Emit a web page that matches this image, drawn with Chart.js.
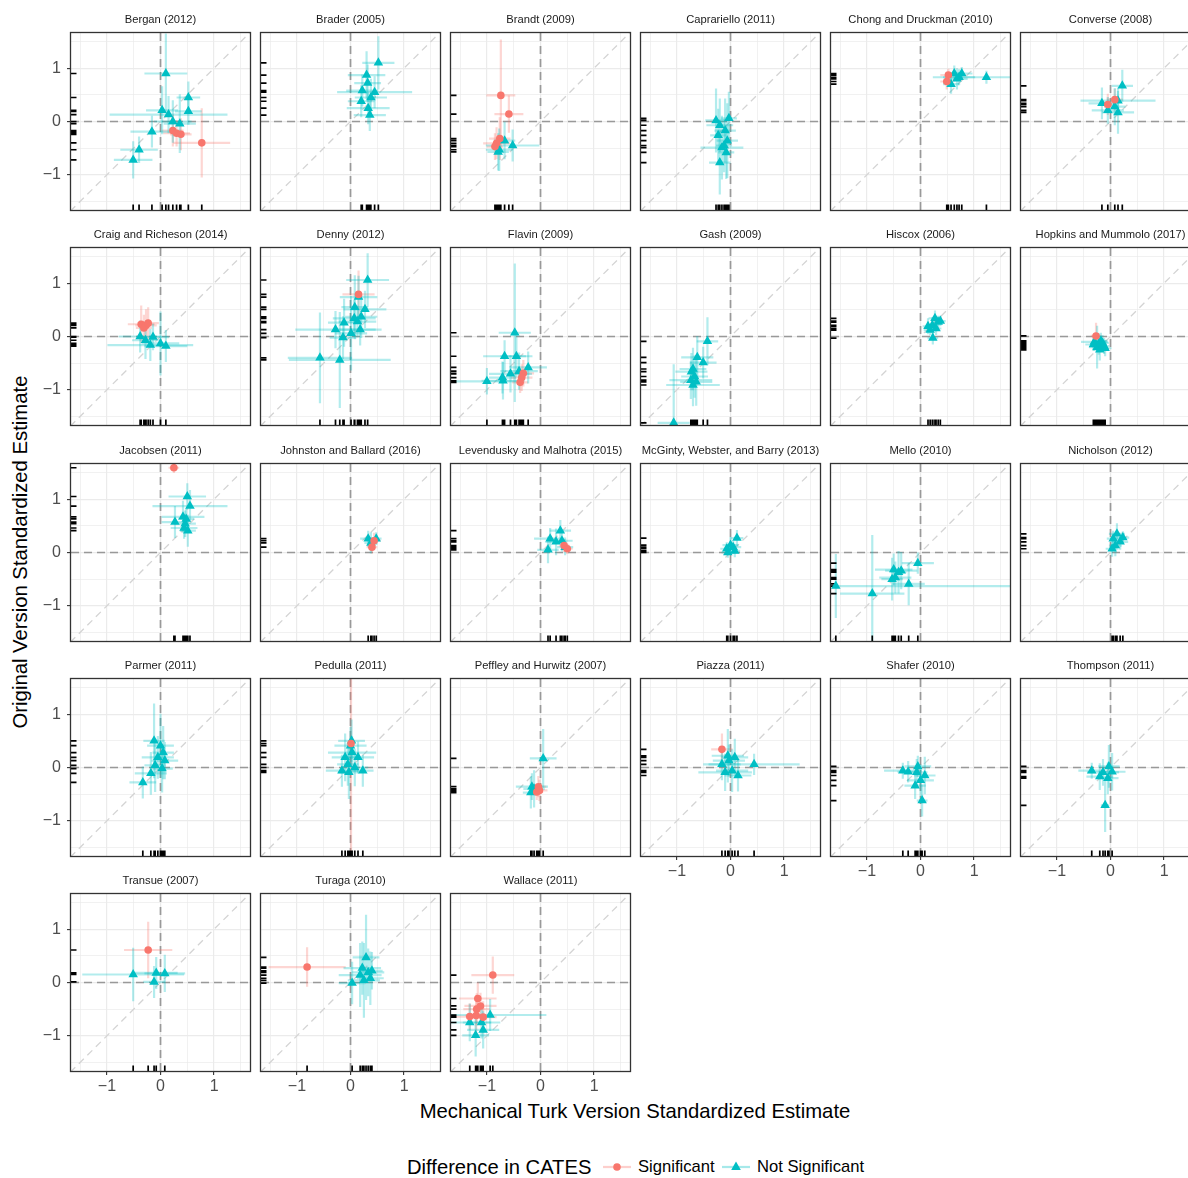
<!DOCTYPE html>
<html>
<head>
<meta charset="utf-8">
<script src="https://cdn.jsdelivr.net/npm/chart.js@4.4.1/dist/chart.umd.min.js"></script>
<style>
  body { margin: 0; background: #fff; width: 1188px; height: 1178px; overflow: hidden; position: relative;
         font-family: "Liberation Sans", Arial, Helvetica, sans-serif; }
  canvas { position: absolute; }
  .lbl { position: absolute; white-space: nowrap; color: #000; }
</style>
</head>
<body>
<div class="lbl" id="ytitle" style="left:20px;top:552px;font-size:20.3px;transform:translate(-50%,-50%) rotate(-90deg);">Original Version Standardized Estimate</div>
<div class="lbl" id="xtitle" style="left:635px;top:1111px;font-size:20.3px;transform:translate(-50%,-50%);">Mechanical Turk Version Standardized Estimate</div>
<div class="lbl" style="left:407px;top:1167px;font-size:20.2px;transform:translateY(-50%);">Difference in CATES</div>
<svg style="position:absolute;left:603px;top:1160px" width="28" height="14">
  <line x1="0" y1="7" x2="28" y2="7" stroke="rgba(248,118,109,0.35)" stroke-width="2.2"/>
  <circle cx="14" cy="7" r="3.8" fill="#F8766D"/>
</svg>
<div class="lbl" id="leg1" style="left:638px;top:1167px;font-size:16.6px;transform:translateY(-50%);"></div>
<svg style="position:absolute;left:722px;top:1160px" width="28" height="14">
  <line x1="0" y1="7" x2="28" y2="7" stroke="rgba(0,191,196,0.35)" stroke-width="2.2"/>
  <polygon points="14,1.6 18.8,9.9 9.2,9.9" fill="#00BFC4"/>
</svg>
<div class="lbl" id="leg2" style="left:757px;top:1167px;font-size:16.6px;transform:translateY(-50%);"></div>

<script>
// each row: [MTurk estimate, original estimate, MTurk half-CI, original half-CI, significant (1/0)]
const bergan2012 = [
  [0.10, 0.90, 0.40, 0.75, 0], [0.52, 0.45, 0.22, 0.30, 0], [0.52, 0.19, 0.25, 0.25, 0],
  [0.03, 0.21, 0.30, 0.45, 0], [0.15, 0.13, 1.10, 0.35, 0], [0.23, 0.00, 0.35, 0.40, 0],
  [0.36, -0.04, 0.30, 0.55, 0], [-0.16, -0.19, 0.40, 0.30, 0], [-0.40, -0.53, 0.35, 0.25, 0],
  [-0.51, -0.72, 0.36, 0.35, 0], [0.23, -0.17, 0.20, 0.30, 1], [0.30, -0.22, 0.25, 0.25, 1],
  [0.38, -0.24, 0.20, 0.30, 1], [0.77, -0.40, 0.53, 0.65, 1]
];
const brader2005 = [
  [0.52, 1.10, 0.30, 0.50, 0], [0.30, 0.87, 0.35, 0.45, 0], [0.32, 0.72, 0.25, 0.35, 0],
  [0.22, 0.58, 0.30, 0.30, 0], [0.45, 0.55, 0.70, 0.30, 0], [0.38, 0.45, 0.30, 0.35, 0],
  [0.20, 0.38, 0.25, 0.30, 0], [0.33, 0.25, 0.40, 0.30, 0], [0.36, 0.12, 0.30, 0.30, 0]
];
const brandt2009 = [
  [-0.74, 0.49, 0.27, 1.05, 1], [-0.59, 0.14, 0.27, 0.35, 1], [-0.76, -0.32, 0.20, 0.40, 1],
  [-0.82, -0.41, 0.25, 0.30, 1], [-0.85, -0.47, 0.15, 0.25, 1], [-0.67, -0.36, 0.20, 0.35, 0],
  [-0.52, -0.45, 0.50, 0.30, 0], [-0.79, -0.57, 0.20, 0.35, 0], [-0.77, -0.53, 0.25, 0.40, 0]
];
const caprariello2011 = [
  [-0.27, 0.02, 0.20, 0.60, 0], [-0.03, 0.06, 0.15, 0.50, 0], [-0.20, -0.07, 0.25, 0.50, 0],
  [-0.10, -0.17, 0.20, 0.60, 0], [-0.23, -0.26, 0.15, 0.50, 0], [-0.06, -0.36, 0.20, 0.70, 0],
  [-0.12, -0.45, 0.15, 0.50, 0], [-0.16, -0.49, 0.40, 0.60, 0], [-0.08, -0.58, 0.15, 0.50, 0],
  [-0.20, -0.77, 0.20, 0.60, 0]
];
const chongDruckman2010 = [
  [0.63, 0.90, 0.15, 0.15, 0], [0.77, 0.90, 0.20, 0.12, 0], [0.72, 0.83, 0.30, 0.15, 0],
  [0.68, 0.80, 0.20, 0.20, 0], [1.23, 0.83, 1.00, 0.12, 0], [0.57, 0.70, 0.15, 0.18, 0],
  [0.52, 0.87, 0.15, 0.12, 1], [0.49, 0.75, 0.12, 0.15, 1]
];
const converse2008 = [
  [0.22, 0.67, 0.20, 0.30, 0], [0.14, 0.39, 0.70, 0.25, 0], [-0.16, 0.34, 0.25, 0.30, 0],
  [0.08, 0.28, 0.20, 0.35, 0], [-0.05, 0.21, 0.30, 0.25, 0], [0.14, 0.17, 0.30, 0.40, 0],
  [-0.05, 0.32, 0.15, 0.20, 1], [0.08, 0.41, 0.15, 0.20, 1]
];
const craigRicheson2014 = [
  [-0.36, 0.23, 0.25, 0.35, 1], [-0.27, 0.21, 0.20, 0.30, 1], [-0.31, 0.16, 0.15, 0.25, 1],
  [-0.23, 0.25, 0.20, 0.30, 1], [-0.38, 0.00, 0.40, 0.30, 0], [-0.14, -0.01, 0.30, 0.25, 0],
  [0.00, -0.13, 0.35, 0.60, 0], [-0.19, -0.16, 0.80, 0.30, 0], [0.10, -0.18, 0.40, 0.30, 0],
  [-0.28, -0.07, 0.25, 0.35, 0]
];
const denny2012 = [
  [0.32, 1.06, 0.40, 0.50, 0], [0.15, 0.79, 0.30, 0.45, 1], [0.15, 0.74, 0.35, 0.40, 0],
  [0.08, 0.55, 0.25, 0.60, 0], [0.27, 0.51, 0.40, 0.35, 0], [0.07, 0.34, 0.40, 0.35, 0],
  [0.20, 0.37, 0.30, 0.40, 0], [0.13, 0.28, 0.35, 0.30, 0], [-0.12, 0.26, 0.30, 0.45, 0],
  [-0.28, 0.13, 0.75, 0.35, 0], [0.18, 0.13, 0.40, 0.30, 0], [0.01, 0.06, 0.30, 0.70, 0],
  [-0.14, -0.02, 0.25, 0.40, 0], [-0.57, -0.40, 0.60, 0.85, 0], [-0.20, -0.44, 0.95, 0.90, 0]
];
const flavin2009 = [
  [-0.48, 0.07, 0.30, 1.30, 0], [-0.67, -0.37, 0.40, 0.30, 0], [-0.45, -0.37, 0.30, 0.40, 0],
  [-0.23, -0.58, 0.35, 0.30, 0], [-0.40, -0.65, 0.35, 0.35, 0], [-0.56, -0.70, 0.40, 0.35, 0],
  [-0.71, -0.77, 0.25, 0.30, 0], [-0.70, -0.83, 0.40, 0.35, 0], [-1.00, -0.84, 0.65, 0.25, 0],
  [-0.32, -0.69, 0.20, 0.25, 1], [-0.35, -0.77, 0.20, 0.25, 1], [-0.38, -0.86, 0.15, 0.20, 1]
];
const gash2009 = [
  [-0.43, -0.09, 0.20, 0.45, 0], [-0.62, -0.39, 0.30, 0.40, 0], [-0.51, -0.49, 0.25, 0.30, 0],
  [-0.70, -0.61, 0.25, 0.40, 0], [-0.73, -0.66, 0.30, 0.35, 0], [-0.67, -0.75, 0.25, 0.40, 0],
  [-0.74, -0.82, 0.40, 0.35, 0], [-0.64, -0.85, 0.30, 0.45, 0], [-0.70, -0.91, 0.50, 0.40, 0],
  [-1.06, -1.62, 0.30, 1.10, 0]
];
const hiscox2006 = [
  [0.27, 0.34, 0.12, 0.15, 0], [0.33, 0.27, 0.10, 0.12, 0], [0.22, 0.21, 0.12, 0.15, 0],
  [0.29, 0.15, 0.10, 0.12, 0], [0.18, 0.12, 0.12, 0.10, 0], [0.37, 0.29, 0.10, 0.10, 0],
  [0.23, -0.03, 0.10, 0.12, 0], [0.14, 0.19, 0.10, 0.15, 0]
];
const hopkinsMummolo2017 = [
  [-0.27, 0.01, 0.10, 0.25, 1], [-0.30, -0.10, 0.25, 0.15, 0], [-0.22, -0.14, 0.15, 0.20, 0],
  [-0.15, -0.12, 0.12, 0.15, 0], [-0.25, -0.20, 0.15, 0.40, 0], [-0.12, -0.18, 0.10, 0.15, 0],
  [-0.20, -0.25, 0.12, 0.20, 0], [-0.32, -0.15, 0.15, 0.12, 0], [-0.10, -0.22, 0.12, 0.15, 0],
  [-0.18, -0.08, 0.12, 0.15, 0]
];
const jacobsen2011 = [
  [0.25, 1.59, 0.10, 0.10, 1], [0.50, 1.05, 0.35, 0.25, 0], [0.55, 0.87, 0.70, 0.30, 0],
  [0.27, 0.57, 0.25, 0.30, 0], [0.42, 0.67, 0.40, 0.30, 0], [0.46, 0.54, 0.20, 0.25, 0],
  [0.51, 0.41, 0.15, 0.30, 0], [0.44, 0.46, 0.25, 0.20, 0], [0.48, 0.63, 0.15, 0.20, 0]
];
const johnstonBallard2016 = [
  [0.44, 0.22, 0.12, 0.15, 1], [0.40, 0.10, 0.10, 0.12, 1], [0.33, 0.26, 0.15, 0.15, 0],
  [0.38, 0.18, 0.12, 0.20, 0], [0.48, 0.26, 0.10, 0.12, 0]
];
const levenduskyMalhotra2015 = [
  [0.37, 0.41, 0.20, 0.20, 0], [0.18, 0.26, 0.30, 0.20, 0], [0.29, 0.20, 0.20, 0.25, 0],
  [0.14, 0.05, 0.20, 0.25, 0], [0.40, 0.22, 0.20, 0.20, 0], [0.46, 0.10, 0.15, 0.15, 0],
  [0.50, 0.07, 0.10, 0.10, 1], [0.44, 0.13, 0.10, 0.12, 1]
];
const mcgintyWebsterBarry2013 = [
  [0.12, 0.27, 0.12, 0.15, 0], [0.00, 0.14, 0.15, 0.15, 0], [-0.07, 0.07, 0.12, 0.12, 0],
  [0.05, 0.10, 0.15, 0.12, 0], [0.08, 0.03, 0.10, 0.12, 0], [-0.05, 0.00, 0.12, 0.10, 0]
];
const mello2010 = [
  [-0.05, -0.20, 0.30, 0.20, 0], [-0.50, -0.32, 0.35, 0.30, 0], [-0.36, -0.34, 0.30, 0.35, 0],
  [-0.41, -0.37, 0.15, 0.40, 0], [-0.53, -0.50, 0.20, 0.40, 0], [-0.47, -0.47, 0.30, 0.30, 0],
  [-0.22, -0.59, 0.30, 0.40, 0], [-1.58, -0.63, 3.25, 0.60, 0], [-0.90, -0.77, 0.60, 1.10, 0]
];
const nicholson2012 = [
  [0.12, 0.35, 0.15, 0.20, 0], [0.05, 0.26, 0.12, 0.15, 0], [0.18, 0.20, 0.15, 0.15, 0],
  [0.09, 0.13, 0.12, 0.20, 0], [0.23, 0.28, 0.12, 0.12, 0], [0.03, 0.07, 0.12, 0.15, 0]
];
const parmer2011 = [
  [-0.12, 0.50, 0.20, 0.70, 0], [0.00, 0.41, 0.25, 0.60, 0], [0.05, 0.28, 0.20, 0.50, 0],
  [-0.05, 0.19, 0.30, 0.40, 0], [0.08, 0.13, 0.25, 0.35, 0], [-0.10, 0.04, 0.20, 0.50, 0],
  [-0.18, -0.11, 0.30, 0.40, 0], [-0.33, -0.28, 0.25, 0.30, 0], [0.03, -0.02, 0.20, 0.45, 0]
];
const pedulla2011 = [
  [0.01, 0.45, 0.05, 2.10, 1],
  [0.02, 0.50, 0.25, 0.40, 0], [0.00, 0.41, 0.30, 0.35, 0], [0.03, 0.28, 0.45, 0.30, 0],
  [-0.10, 0.19, 0.25, 0.45, 0], [0.14, 0.19, 0.30, 0.30, 0], [-0.05, 0.06, 0.20, 0.40, 0],
  [0.08, 0.00, 0.25, 0.35, 0], [0.23, -0.06, 0.20, 0.30, 0], [-0.16, -0.06, 0.30, 0.30, 0],
  [-0.03, -0.09, 0.20, 0.50, 0]
];
const peffleyHurwitz2007 = [
  [0.05, 0.17, 0.25, 0.55, 0], [-0.16, -0.36, 0.30, 0.25, 0], [-0.18, -0.47, 0.15, 0.30, 0],
  [-0.12, -0.40, 0.20, 0.35, 0], [-0.04, -0.36, 0.15, 0.20, 1], [-0.07, -0.46, 0.12, 0.15, 1],
  [-0.02, -0.43, 0.15, 0.20, 1]
];
const piazza2011 = [
  [-0.16, 0.34, 0.20, 0.30, 1], [-0.05, 0.22, 0.30, 0.50, 0], [0.08, 0.19, 0.25, 0.35, 0],
  [-0.16, 0.06, 0.35, 0.30, 0], [0.03, -0.06, 0.30, 0.40, 0], [0.14, -0.15, 0.25, 0.30, 0],
  [0.44, 0.06, 0.85, 0.20, 0], [-0.10, -0.09, 0.50, 0.35, 0], [-0.03, 0.13, 0.30, 0.30, 0]
];
const shafer2010 = [
  [-0.33, -0.06, 0.35, 0.15, 0], [-0.23, -0.08, 0.20, 0.20, 0], [-0.07, -0.09, 0.20, 0.25, 0],
  [0.00, -0.24, 0.25, 0.30, 0], [-0.10, -0.34, 0.20, 0.25, 0], [0.03, -0.62, 0.10, 0.30, 0],
  [0.08, -0.15, 0.20, 0.35, 0], [-0.05, 0.02, 0.25, 0.20, 0]
];
const thompson2011 = [
  [-0.35, -0.06, 0.25, 0.15, 0], [-0.14, -0.09, 0.30, 0.25, 0], [-0.05, -0.20, 0.20, 0.30, 0],
  [0.03, -0.08, 0.25, 0.35, 0], [-0.10, -0.71, 0.08, 0.50, 0], [-0.03, 0.02, 0.20, 0.40, 0],
  [-0.20, -0.17, 0.25, 0.25, 0]
];
const transue2007 = [
  [-0.23, 0.61, 0.45, 0.53, 1], [-0.51, 0.15, 0.95, 0.50, 0], [-0.08, 0.18, 0.40, 0.30, 0],
  [0.08, 0.17, 0.38, 0.35, 0], [-0.12, 0.01, 0.20, 0.30, 0]
];
const turaga2010 = [
  [-0.81, 0.29, 0.72, 0.37, 1], [0.29, 0.47, 0.25, 0.80, 0], [0.22, 0.27, 0.35, 0.50, 0],
  [0.33, 0.19, 0.30, 0.45, 0], [0.18, 0.14, 0.40, 0.60, 0], [0.37, 0.08, 0.25, 0.50, 0],
  [0.03, -0.01, 0.25, 0.40, 0], [0.25, 0.04, 0.30, 0.70, 0], [0.40, 0.22, 0.20, 0.35, 0]
];
const wallace2011 = [
  [-0.89, 0.14, 0.40, 0.35, 1], [-1.17, -0.30, 0.35, 0.30, 1], [-1.12, -0.44, 0.30, 0.25, 1],
  [-1.19, -0.50, 0.25, 0.30, 1], [-1.32, -0.64, 0.30, 0.25, 1], [-1.07, -0.65, 0.25, 0.30, 1],
  [-1.20, -0.62, 0.20, 0.30, 1], [-0.94, -0.61, 1.05, 0.30, 0], [-1.32, -0.75, 0.40, 0.35, 0],
  [-1.10, -0.75, 0.35, 0.30, 0], [-1.07, -0.89, 0.30, 0.35, 0], [-1.21, -0.99, 0.25, 0.40, 0]
];

const studyNames = [
  'Bergan (2012)', 'Brader (2005)', 'Brandt (2009)', 'Caprariello (2011)', 'Chong and Druckman (2010)', 'Converse (2008)',
  'Craig and Richeson (2014)', 'Denny (2012)', 'Flavin (2009)', 'Gash (2009)', 'Hiscox (2006)', 'Hopkins and Mummolo (2017)',
  'Jacobsen (2011)', 'Johnston and Ballard (2016)', 'Levendusky and Malhotra (2015)', 'McGinty, Webster, and Barry (2013)', 'Mello (2010)', 'Nicholson (2012)',
  'Parmer (2011)', 'Pedulla (2011)', 'Peffley and Hurwitz (2007)', 'Piazza (2011)', 'Shafer (2010)', 'Thompson (2011)',
  'Transue (2007)', 'Turaga (2010)', 'Wallace (2011)'
];
const studyRows = [
  bergan2012, brader2005, brandt2009, caprariello2011, chongDruckman2010, converse2008,
  craigRicheson2014, denny2012, flavin2009, gash2009, hiscox2006, hopkinsMummolo2017,
  jacobsen2011, johnstonBallard2016, levenduskyMalhotra2015, mcgintyWebsterBarry2013, mello2010, nicholson2012,
  parmer2011, pedulla2011, peffleyHurwitz2007, piazza2011, shafer2010, thompson2011,
  transue2007, turaga2010, wallace2011
];
const legendLabels = ['Significant', 'Not Significant'];
const tickValues = [-1, 0, 1];
const tickLabels = ['\u22121', '0', '1'];

document.getElementById('leg1').textContent = legendLabels[0];
document.getElementById('leg2').textContent = legendLabels[1];

const RED = '#F8766D', TEAL = '#00BFC4';
const RED_BAR = 'rgba(248,118,109,0.3)', TEAL_BAR = 'rgba(0,191,196,0.3)';
const FONT = '"Liberation Sans", Arial, Helvetica, sans-serif';
Chart.defaults.font.family = FONT;

const colLefts = [71, 261, 451, 641, 831, 1021];
const rowTops = [33, 248, 464, 679, 894];
const PW = 179, PH = 177, LEFT = 40, TOP = 20, BOTTOM = 33, RIGHT = 10;

const isMajor = v => Math.abs(v - Math.round(v)) < 1e-6;
const tickText = v => {
  const i = tickValues.findIndex(t => Math.abs(t - v) < 1e-6);
  return i >= 0 ? tickLabels[i] : '';
};

function decor(rows) {
  return {
    id: 'decor',
    beforeDatasetsDraw(chart) {
      const { ctx, chartArea: a } = chart;
      const sx = chart.scales.x, sy = chart.scales.y;
      const X = v => sx.getPixelForValue(v), Y = v => sy.getPixelForValue(v);
      ctx.save();
      ctx.beginPath();
      ctx.rect(a.left, a.top, a.width, a.height);
      ctx.clip();
      // y = x reference
      ctx.setLineDash([7, 5]);
      ctx.strokeStyle = '#d4d4d4';
      ctx.lineWidth = 1.3;
      ctx.beginPath();
      ctx.moveTo(X(-2), Y(-2));
      ctx.lineTo(X(2), Y(2));
      ctx.stroke();
      // zero lines
      ctx.setLineDash([8, 5]);
      ctx.strokeStyle = '#999999';
      ctx.lineWidth = 1.7;
      ctx.beginPath();
      ctx.moveTo(X(0), a.top); ctx.lineTo(X(0), a.bottom);
      ctx.moveTo(a.left, Y(0)); ctx.lineTo(a.right, Y(0));
      ctx.stroke();
      ctx.setLineDash([]);
      // error bars, significant ones underneath
      ctx.lineWidth = 2.2;
      [1, 0].forEach(flag => {
        rows.filter(p => p[4] === flag).forEach(([x, y, xe, ye, sig]) => {
          ctx.strokeStyle = sig ? RED_BAR : TEAL_BAR;
          ctx.beginPath();
          ctx.moveTo(X(x - xe), Y(y)); ctx.lineTo(X(x + xe), Y(y));
          ctx.moveTo(X(x), Y(y - ye)); ctx.lineTo(X(x), Y(y + ye));
          ctx.stroke();
        });
      });
      // rugs
      ctx.strokeStyle = '#000';
      ctx.lineWidth = 1.7;
      ctx.beginPath();
      rows.forEach(([x, y]) => {
        ctx.moveTo(X(x), a.bottom); ctx.lineTo(X(x), a.bottom - 5.5);
        ctx.moveTo(a.left, Y(y)); ctx.lineTo(a.left + 5.5, Y(y));
      });
      ctx.stroke();
      ctx.restore();
    },
    afterDraw(chart) {
      const { ctx, chartArea: a } = chart;
      ctx.save();
      ctx.strokeStyle = '#333333';
      ctx.lineWidth = 1.3;
      ctx.strokeRect(a.left - 0.5, a.top - 0.5, a.width + 1, a.height + 1);
      ctx.restore();
    }
  };
}

studyRows.forEach((rows, i) => {
  const r = Math.floor(i / 6), c = i % 6;
  const showX = r === 4 || (r === 3 && c >= 3);
  const showY = c === 0;
  const cv = document.createElement('canvas');
  cv.width = LEFT + PW + RIGHT;
  cv.height = TOP + PH + BOTTOM;
  cv.style.left = (colLefts[c] - LEFT) + 'px';
  cv.style.top = (rowTops[r] - TOP) + 'px';
  document.body.appendChild(cv);

  const gridOpts = show => ({
    color: '#ebebeb',
    lineWidth: ctx => isMajor(ctx.tick.value) ? 1.2 : 0.7,
    drawTicks: show,
    tickLength: 4,
    tickWidth: 1.1,
    tickColor: ctx => isMajor(ctx.tick.value) ? '#333' : 'rgba(0,0,0,0)'
  });
  const tickOpts = (show, pad) => ({
    display: show,
    stepSize: 0.5,
    includeBounds: false,
    autoSkip: false,
    maxRotation: 0,
    padding: pad,
    color: '#4d4d4d',
    font: { size: 16, family: FONT },
    callback: v => tickText(v)
  });

  new Chart(cv, {
    type: 'scatter',
    data: {
      datasets: [
        { label: legendLabels[0], data: rows.filter(p => p[4] === 1).map(p => ({ x: p[0], y: p[1] })),
          pointStyle: 'circle', pointRadius: 3.8, pointBackgroundColor: RED, pointBorderWidth: 0 },
        { label: legendLabels[1], data: rows.filter(p => p[4] === 0).map(p => ({ x: p[0], y: p[1] })),
          pointStyle: 'triangle', pointRadius: 5.5, pointBackgroundColor: TEAL, pointBorderWidth: 0 }
      ]
    },
    options: {
      responsive: false,
      animation: false,
      events: [],
      layout: { padding: { left: 0, right: RIGHT, top: 0, bottom: 0 } },
      plugins: {
        legend: { display: false },
        tooltip: { enabled: false },
        title: {
          display: true, text: studyNames[i], fullSize: false, color: '#1a1a1a',
          font: { size: 11.2, weight: 'normal', family: FONT, lineHeight: 1.2 },
          padding: { top: 0, bottom: TOP - 11.2 * 1.2 }
        }
      },
      scales: {
        x: {
          type: 'linear', min: -1.67, max: 1.67,
          afterFit: s => { s.height = BOTTOM; },
          ticks: tickOpts(showX, 2),
          grid: gridOpts(showX),
          border: { display: false }
        },
        y: {
          type: 'linear', min: -1.66, max: 1.66,
          afterFit: s => { s.width = LEFT; },
          ticks: tickOpts(showY, 6),
          grid: gridOpts(showY),
          border: { display: false }
        }
      }
    },
    plugins: [decor(rows)]
  });
});
</script>
</body>
</html>
